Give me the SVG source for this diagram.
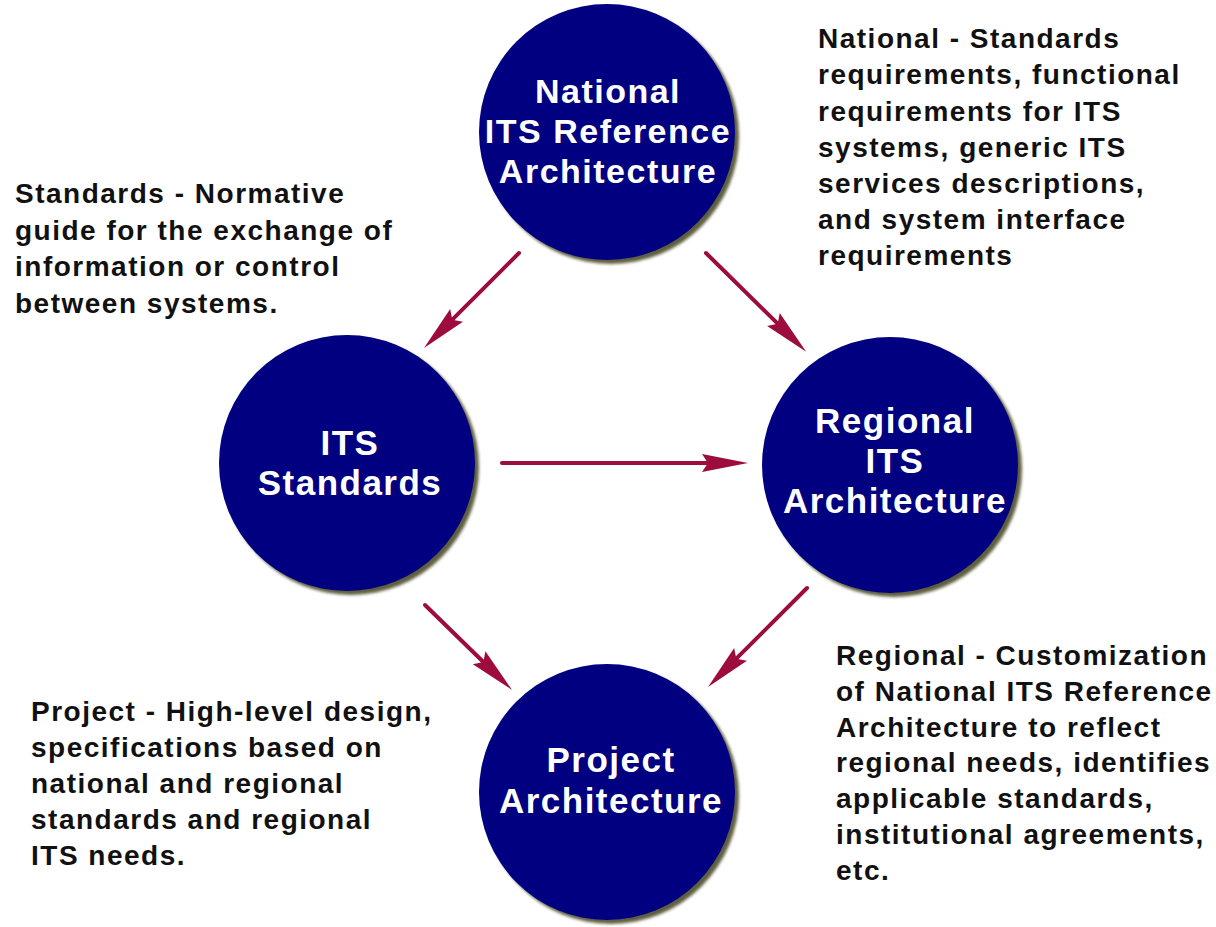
<svg xmlns="http://www.w3.org/2000/svg" width="1216" height="927" viewBox="0 0 1216 927">
<defs>
<style>
.bg{fill:#ffffff}
.disc{fill:#000080}
.shadow{fill:#5e5e40;filter:url(#blur)}
.ctext{font-family:"Liberation Sans",Arial,sans-serif;font-weight:bold;fill:#ffffff;text-anchor:middle;letter-spacing:1.5px}
.desc{font-family:"Liberation Sans",Arial,sans-serif;font-weight:bold;font-size:28px;fill:#111111;letter-spacing:1.5px}
.conn{stroke:#9c0c3c;stroke-width:4;stroke-linecap:round;fill:none;marker-end:url(#head)}
</style>
<filter id="blur" x="-10%" y="-10%" width="120%" height="120%"><feGaussianBlur stdDeviation="1.5"/></filter>
<marker id="head" markerUnits="userSpaceOnUse" markerWidth="50" markerHeight="24" viewBox="0 -12 50 24" refX="6" refY="0" orient="auto">
<path d="M0,-9 L46,0 L0,9 L6,0 Z" fill="#9c0c3c"/>
</marker>
</defs>
<rect class="bg" x="0" y="0" width="1216" height="927"/>

<g id="connectors">
<line class="conn" x1="519" y1="253" x2="452.3" y2="319.7"/>
<line class="conn" x1="706" y1="253" x2="777.7" y2="323.7"/>
<line class="conn" x1="502" y1="463" x2="708" y2="463"/>
<line class="conn" x1="425" y1="605" x2="483.4" y2="662"/>
<line class="conn" x1="807" y1="588" x2="736.3" y2="658.7"/>
</g>

<g id="national">
<circle class="shadow" cx="611" cy="136" r="128"/>
<circle class="disc" cx="607" cy="132" r="128"/>
<text class="ctext" font-size="34" x="608" y="103">National</text>
<text class="ctext" font-size="34" x="608" y="143">ITS Reference</text>
<text class="ctext" font-size="34" x="608" y="183">Architecture</text>
</g>

<g id="its-standards">
<circle class="shadow" cx="351" cy="467" r="128"/>
<circle class="disc" cx="347" cy="463" r="128"/>
<text class="ctext" font-size="35" x="350" y="455">ITS</text>
<text class="ctext" font-size="35" x="350" y="495">Standards</text>
</g>

<g id="regional">
<circle class="shadow" cx="894" cy="469" r="128"/>
<circle class="disc" cx="890" cy="465" r="128"/>
<text class="ctext" font-size="35" x="895" y="433">Regional</text>
<text class="ctext" font-size="35" x="895" y="473">ITS</text>
<text class="ctext" font-size="35" x="895" y="513">Architecture</text>
</g>

<g id="project">
<circle class="shadow" cx="611" cy="796" r="128"/>
<circle class="disc" cx="607" cy="792" r="128"/>
<text class="ctext" font-size="35" x="611" y="772">Project</text>
<text class="ctext" font-size="35" x="611" y="813">Architecture</text>
</g>

<g id="standards-note">
<text class="desc" x="15" y="203">Standards - Normative</text>
<text class="desc" x="15" y="240">guide for the exchange of</text>
<text class="desc" x="15" y="276">information or control</text>
<text class="desc" x="15" y="313">between systems.</text>
</g>

<g id="national-note">
<text class="desc" x="818" y="48">National - Standards</text>
<text class="desc" x="818" y="84">requirements, functional</text>
<text class="desc" x="818" y="121">requirements for ITS</text>
<text class="desc" x="818" y="157">systems, generic ITS</text>
<text class="desc" x="818" y="193">services descriptions,</text>
<text class="desc" x="818" y="229">and system interface</text>
<text class="desc" x="818" y="265">requirements</text>
</g>

<g id="regional-note">
<text class="desc" x="836" y="665">Regional - Customization</text>
<text class="desc" x="836" y="701">of National ITS Reference</text>
<text class="desc" x="836" y="737">Architecture to reflect</text>
<text class="desc" x="836" y="772">regional needs, identifies</text>
<text class="desc" x="836" y="808">applicable standards,</text>
<text class="desc" x="836" y="844">institutional agreements,</text>
<text class="desc" x="836" y="880">etc.</text>
</g>

<g id="project-note">
<text class="desc" x="31" y="721">Project - High-level design,</text>
<text class="desc" x="31" y="757">specifications based on</text>
<text class="desc" x="31" y="793">national and regional</text>
<text class="desc" x="31" y="829">standards and regional</text>
<text class="desc" x="31" y="865">ITS needs.</text>
</g>
</svg>
